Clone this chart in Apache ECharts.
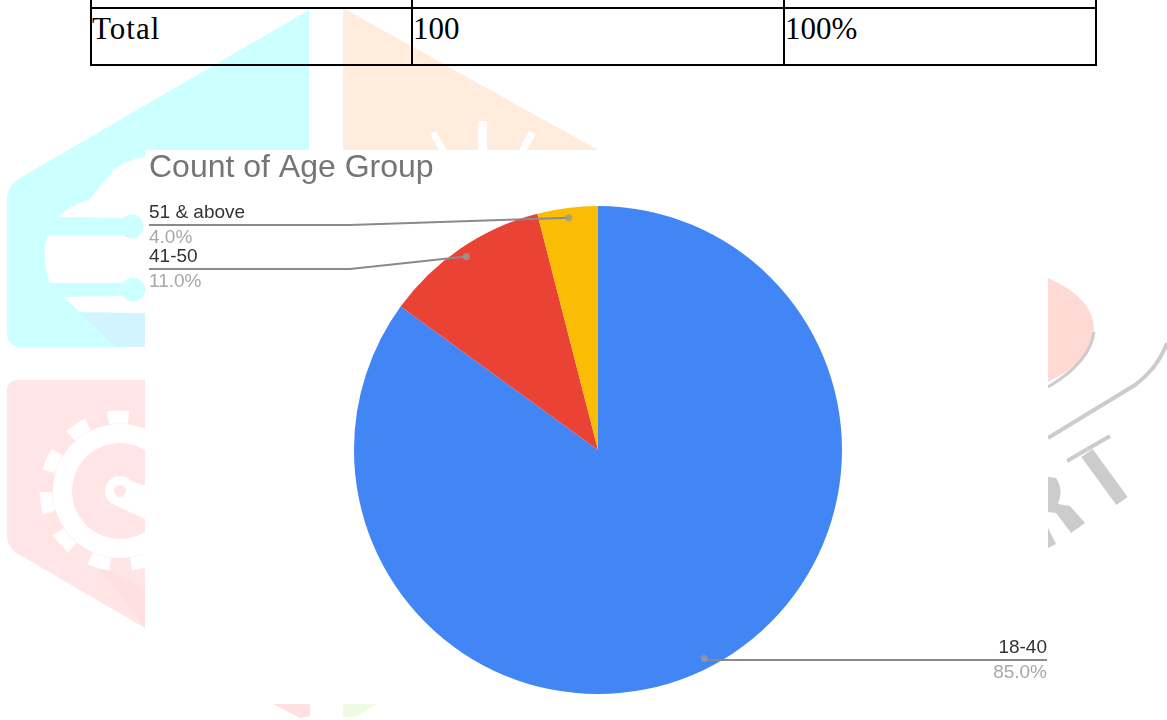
<!DOCTYPE html>
<html>
<head>
<meta charset="utf-8">
<title>Count of Age Group</title>
<script src="https://cdn.jsdelivr.net/npm/echarts@6/dist/echarts.min.js"></script>
<style>
  html, body { margin: 0; padding: 0; background: #fff; overflow: hidden; }
  #page { position: relative; width: 1167px; height: 720px; overflow: hidden; }
  #mark { position: absolute; left: 0; top: 0; }
  #paper { position: absolute; left: 145px; top: 150px; width: 903px; height: 554px; background: #fff; }
  #chart { position: absolute; left: 0; top: 0; width: 1167px; height: 720px; }
  #tbl { position: absolute; left: 90px; top: -30px; width: 1005px; border-collapse: collapse; table-layout: fixed;
         font-family: "Liberation Serif", serif; font-size: 31px; color: #000; }
  #tbl td { border: 2px solid #000; padding: 0; vertical-align: top; line-height: 40px; }
  #tbl #c0 { letter-spacing: 1px; }
  #tbl tr.blank td { height: 35px; }
  #tbl tr.total td { height: 55px; }
</style>
</head>
<body>
<div id="page">
  <!-- faded logo behind the pasted chart -->
  <svg id="mark" width="1167" height="720">
    <path d="M309 10 L20 178 Q7 186 7 200 L7 332 Q7 347 22 347 L145 347 L145 150 L309 150 Z" fill="#ccffff"/>
    <path d="M145 157 Q125 160 113 170 L90 199 Q70 205 58 217 L123 218 A12 12 0 1 1 123 235 L48 235 Q40 258 50 283 L123 283 A12 12 0 1 1 123 296 L63 297 L80 312 L145 313 Z" fill="#fff"/>
    <path d="M80 313 L145 313 L145 347 L116 347 Z" fill="#d2f4ff"/>
    <path d="M343 8 L598 150 L343 150 Z" fill="#ffecdc"/>
    <path d="M478 121 L487 121 L487 150 L478 150 Z M430 134 L436 131 L447 150 L439 150 Z M529 131 L536 134 L527 150 L519 150 Z" fill="#fff"/>
    <path d="M7 392 Q7 380 19 380 L145 380 L145 628 L20 555 Q7 548 7 535 Z" fill="#ffe5e5"/>
    <path d="M95 562 L145 590 L145 628 Z" fill="#ffe0e0"/>
    <circle cx="120" cy="491" r="67" fill="#fff"/>
    <circle cx="120" cy="491" r="74" fill="none" stroke="#fff" stroke-width="13" stroke-dasharray="21 21"/>
    <circle cx="120" cy="491" r="48" fill="#ffe5e5"/>
    <path d="M120 477 L145 486 L145 519 L115 505 Z" fill="#fff"/>
    <circle cx="120" cy="491" r="15" fill="#fff"/>
    <circle cx="120" cy="491" r="6" fill="#ffe5e5"/>
    <path d="M1048 278 Q1094 298 1094 330 Q1092 360 1048 382 Z" fill="#ffd9d3"/>
    <path d="M1094 332 Q1090 362 1048 387" fill="none" stroke="#cccccc" stroke-width="3"/>
    <path d="M1048 438 L1135 385 Q1158 368 1167 343" fill="none" stroke="#cccccc" stroke-width="4"/>
    <path d="M1067 461 L1110 436" fill="none" stroke="#cccccc" stroke-width="4"/>
    <path d="M1087 453 L1122 501" fill="none" stroke="#cccccc" stroke-width="14"/>
    <path d="M1048 477 L1056 478 Q1064 490 1058 504 L1070 506 L1085 523 L1071 533 L1056 513 L1048 512 Z" fill="#cccccc"/>
    <path d="M1048 528 L1056 544 L1048 548 Z" fill="#cccccc"/>
    <path d="M273 704 L310 704 L310 716 L300 718 Z" fill="#ffdfdf"/>
    <path d="M343 704 L377 704 L355 717 L343 717 Z" fill="#edfbe2"/>
  </svg>
  <div id="paper"></div>
  <table id="tbl">
    <colgroup><col style="width:321px"><col style="width:372px"><col style="width:312px"></colgroup>
    <tr class="blank"><td></td><td></td><td></td></tr>
    <tr class="total"><td id="c0"></td><td id="c1"></td><td id="c2"></td></tr>
  </table>
  <div id="chart"></div>
</div>
<script>
  const totalRow = ['Total', '100', '100%']

  const chartTitle = 'Count of Age Group'
  const ageGroups = ['18-40', '41-50', '51 & above']
  const ageCounts = [85, 11, 4]
  const pctLabels = ['85.0%', '11.0%', '4.0%']
  const sliceColors = ['#4285f4', '#ea4335', '#fbbc04']

  totalRow.forEach((t, i) => { document.getElementById('c' + i).textContent = t })

  const sum = ageCounts.reduce((a, b) => a + b, 0)
  // where each leader dot sits round the pie, half way through its slice
  // polar data goes [radius, angle]
  let run = 0
  const dots = ageCounts.map(v => {
    const mid = run + v / 2
    run += v
    return [1, mid / sum * 100]
  })

  const center = [598, 450]
  // label anchor and elbow of the leader line, by slice
  const labelSpots = [
    { x: 1047, y: 660, align: 'right' },
    { x: 149, y: 269, align: 'left', elbow: 350 },
    { x: 149, y: 225, align: 'left', elbow: 350 }
  ]

  const myChart = echarts.init(document.getElementById('chart'), null, { renderer: 'canvas' })
  myChart.setOption({
    animation: false,
    backgroundColor: 'transparent',
    textStyle: { fontFamily: '"Liberation Sans", Arial, sans-serif' },
    title: {
      text: chartTitle,
      left: 149,
      top: 152,
      padding: 0,
      textStyle: { color: '#757575', fontSize: 32, fontWeight: 'normal', fontFamily: '"Liberation Sans", Arial, sans-serif' }
    },
    polar: { center: center, radius: 234 },
    angleAxis: { show: false, type: 'value', min: 0, max: 100, startAngle: 90 },
    radiusAxis: { show: false, type: 'value', min: 0, max: 1 },
    series: [
      {
        type: 'pie',
        center: center,
        radius: 244,
        startAngle: 90,
        clockwise: true,
        silent: true,
        z: 2,
        label: { show: false },
        labelLine: { show: false },
        data: ageGroups.map((name, i) => ({ name, value: ageCounts[i], itemStyle: { color: sliceColors[i] } }))
      },
      {
        // see-through copy, only here so the leader lines start inside the slices
        type: 'pie',
        center: center,
        radius: 234,
        startAngle: 90,
        clockwise: true,
        silent: true,
        z: 3,
        avoidLabelOverlap: false,
        itemStyle: { color: 'transparent' },
        label: {
          show: true,
          formatter: p => '{n|' + p.name + '}\n{p|' + pctLabels[p.dataIndex] + '}',
          rich: {
            n: { color: '#333333', fontSize: 19, lineHeight: 25, fontFamily: '"Liberation Sans", Arial, sans-serif' },
            p: { color: '#a8a8a8', fontSize: 19, lineHeight: 25, fontFamily: '"Liberation Sans", Arial, sans-serif' }
          }
        },
        labelLine: { show: true, smooth: false, lineStyle: { color: '#8a8a8a', width: 2 } },
        labelLayout: params => {
          const spot = labelSpots[params.dataIndex]
          const start = params.labelLinePoints[0]
          const pts = spot.elbow
            ? [start, [spot.elbow, spot.y], [spot.x, spot.y]]
            : [[start[0], spot.y], [(start[0] + spot.x) / 2, spot.y], [spot.x, spot.y]]
          return { x: spot.x, y: spot.y, align: spot.align, verticalAlign: 'middle', labelLinePoints: pts }
        },
        data: ageGroups.map((name, i) => ({ name, value: ageCounts[i] }))
      },
      {
        type: 'scatter',
        coordinateSystem: 'polar',
        silent: true,
        symbolSize: 7,
        itemStyle: { color: '#9a9a9a' },
        z: 5,
        data: dots
      }
    ]
  })
</script>
</body>
</html>
